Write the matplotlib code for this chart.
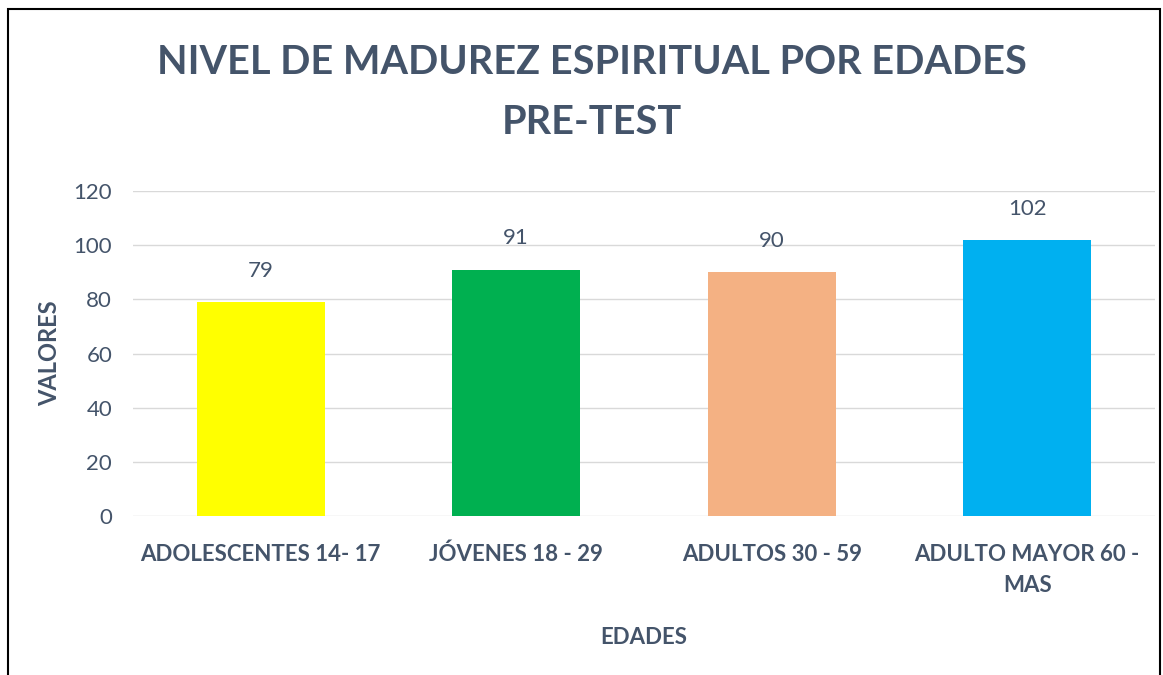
import matplotlib.pyplot as plt
from matplotlib.patches import Rectangle

categorias = ["ADOLESCENTES 14- 17", "JÓVENES 18 - 29", "ADULTOS 30 - 59", "ADULTO MAYOR 60 -\nMAS"]
valores = [79, 91, 90, 102]
colores = ["#FFFF00", "#00B050", "#F4B183", "#00B0F0"]
ticks_y = [0, 20, 40, 60, 80, 100, 120]

texto = "#44546A"
plt.rcParams['font.family'] = ['Lato', 'DejaVu Sans']

fig = plt.figure(figsize=(11.63, 6.75), dpi=100)
ax = fig.add_axes([133 / 1163, 1 - 516 / 675, 1022 / 1163, 325 / 675])

# marco del grafico
fig.patches.append(Rectangle((8 / 1163, -0.05), 1152 / 1163, 1.05 - 9 / 675,
                             transform=fig.transFigure, fill=False,
                             edgecolor="black", linewidth=1.5))

x = range(len(categorias))
barras = ax.bar(x, valores, width=0.5, color=colores, zorder=3)
for b, v in zip(barras, valores):
    ax.text(b.get_x() + b.get_width() / 2, v + 11.5, str(v), ha="center", va="center",
            fontsize=16, color=texto)

ax.set_xlim(-0.5, len(categorias) - 0.5)
ax.set_ylim(0, 120)
ax.set_yticks(ticks_y)
ax.set_xticks(list(x))
ax.set_xticklabels(categorias, fontsize=16, fontweight="bold", color=texto,
                   linespacing=1.6, va="top")
ax.tick_params(axis="y", labelsize=16, labelcolor=texto, length=0, pad=15)
ax.tick_params(axis="x", length=0, pad=20)
ax.grid(axis="y", color="#D9D9D9", linewidth=1, zorder=0)
for s in ax.spines.values():
    s.set_visible(False)

ax.set_xlabel("EDADES", fontsize=16, fontweight="bold", color=texto, labelpad=22)
ax.set_ylabel("VALORES", fontsize=17, fontweight="bold", color=texto, labelpad=9)

fig.text(0.509, 1 - 62 / 675, "NIVEL DE MADUREZ ESPIRITUAL POR EDADES", ha="center", va="center",
         fontsize=28.5, fontweight="bold", color=texto)
fig.text(0.509, 1 - 122 / 675, "PRE-TEST", ha="center", va="center",
         fontsize=28.5, fontweight="bold", color=texto)

fig.savefig("out.png", dpi=100)
